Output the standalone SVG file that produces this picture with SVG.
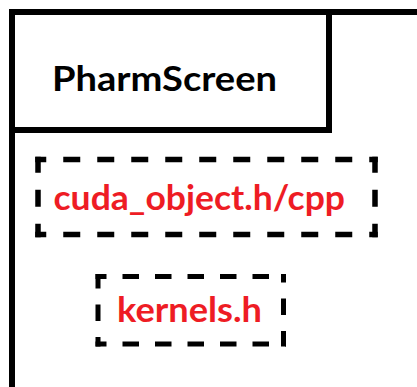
<svg xmlns="http://www.w3.org/2000/svg" width="417" height="387" viewBox="0 0 417 387">
  <style>
    .frame { fill: none; stroke: #000; stroke-width: 6; stroke-linejoin: miter; stroke-linecap: square; }
    .title { font-family: Lato, "Open Sans", "Liberation Sans", sans-serif; font-weight: 700; font-size: 35px; fill: #000; }
    .file { font-family: Lato, "Open Sans", "Liberation Sans", sans-serif; font-weight: 700; font-size: 34px; fill: #ee1c24; }
    .dash { stroke: #000; fill: none; stroke-linecap: butt; }
    .d1 { stroke-width: 5.5; stroke-dasharray: 17 17; }
    .d2 { stroke-width: 5; stroke-dasharray: 16.5 16; }
  </style>
  <rect width="417" height="387" fill="#fff"/>

  <!-- outer module frame, open to the right and bottom -->
  <g id="module">
    <path class="frame" d="M12,390 V12 H420"/>
  </g>

  <!-- PharmScreen header box -->
  <g id="pharmscreen">
    <path class="frame" d="M12,12 H329 V130 H12"/>
    <text class="title" x="52" y="90.5" textLength="225" lengthAdjust="spacingAndGlyphs">PharmScreen</text>
  </g>

  <!-- cuda_object.h/cpp -->
  <g id="cuda_object">
    <g class="dash d1">
      <line x1="35.25" y1="159.5" x2="377.75" y2="159.5" stroke-dashoffset="6"/>
      <line x1="35.25" y1="234.5" x2="377.75" y2="234.5" stroke-dashoffset="6"/>
      <line x1="38" y1="156.75" x2="38" y2="237.25" stroke-dashoffset="1"/>
      <line x1="375" y1="156.75" x2="375" y2="237.25" stroke-dashoffset="1"/>
    </g>
    <text class="file" x="53.5" y="209.5" textLength="291.5" lengthAdjust="spacingAndGlyphs">cuda_object.h/cpp</text>
  </g>

  <!-- kernels.h -->
  <g id="kernels">
    <g class="dash d2">
      <line x1="95.5" y1="276.5" x2="286" y2="276.5" stroke-dashoffset="5.5"/>
      <line x1="95.5" y1="344" x2="286" y2="344" stroke-dashoffset="5.5"/>
      <line x1="98" y1="274" x2="98" y2="346.5" stroke-dashoffset="2"/>
      <line x1="283.5" y1="274" x2="283.5" y2="346.5" stroke-dashoffset="8"/>
    </g>
    <text class="file" x="117" y="321.5" textLength="145" lengthAdjust="spacingAndGlyphs">kernels.h</text>
  </g>

  <!-- no connectors in this view -->
  <g id="connectors"/>
</svg>
